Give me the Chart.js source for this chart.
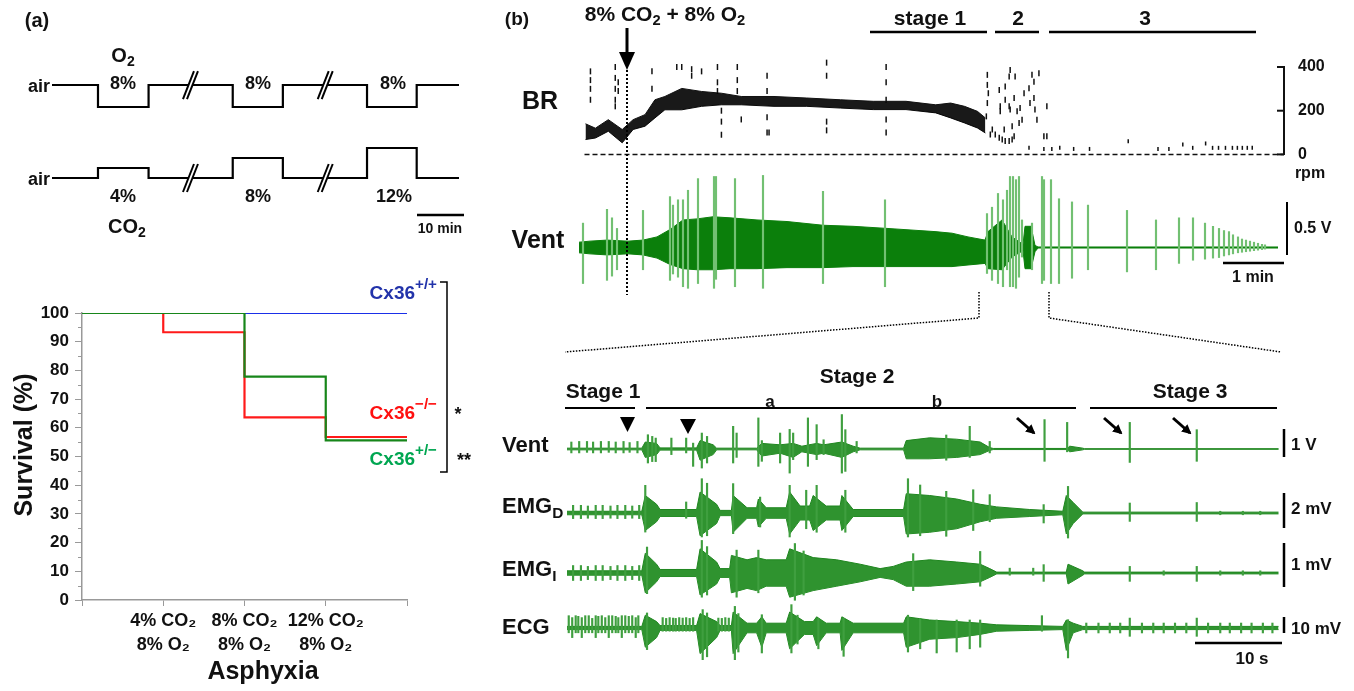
<!DOCTYPE html>
<html>
<head>
<meta charset="utf-8">
<title>Cx36 asphyxia survival</title>
<script src="https://cdn.jsdelivr.net/npm/chart.js@4.4.1/dist/chart.umd.min.js"></script>
<style>
  body { margin: 0; background: #fff; }
  #fig { position: relative; width: 1354px; height: 691px; overflow: hidden; font-family: 'Liberation Sans', Arial, sans-serif; }
  #fig canvas { position: absolute; z-index: 1; }
  #ann { position: absolute; left: 0; top: 0; z-index: 2; }
  .lab { position: absolute; z-index: 3; font-weight: bold; white-space: nowrap; line-height: 1; color: #111; }
  .lab sub, .lab sup { font-size: 0.7em; line-height: 0; }
  .lab sub { vertical-align: -0.3em; }
  .lab sup { vertical-align: 0.6em; font-size: 0.8em; }
</style>
</head>
<body>
<div id="fig">
<svg id="ann" width="1354" height="691">
  <defs>
    <marker id="ah" viewBox="0 0 10 10" refX="8" refY="5" markerWidth="3.2" markerHeight="3.2" orient="auto">
      <path d="M0,0 L10,5 L0,10 z" fill="#000"/>
    </marker>
  </defs>
  <g stroke="#000" fill="none">
    <line x1="417" y1="215" x2="464" y2="215" stroke-width="2.5"/>
    <polyline points="440,282 447,282 447,472 440,472" stroke-width="1.5"/>
    <line x1="627" y1="28" x2="627" y2="54" stroke-width="3"/>
    <line x1="627" y1="70" x2="627" y2="295" stroke-width="2" stroke-dasharray="2 2"/>
    <line x1="870" y1="32" x2="987" y2="32" stroke-width="2.5"/>
    <line x1="995" y1="32" x2="1039" y2="32" stroke-width="2.5"/>
    <line x1="1049" y1="32" x2="1256" y2="32" stroke-width="2.5"/>
    <line x1="1287" y1="202" x2="1287" y2="255" stroke-width="2"/>
    <line x1="1223" y1="263" x2="1284" y2="263" stroke-width="2.5"/>
    <polyline points="979,292 979,318 565,352" stroke-width="1.5" stroke-dasharray="1.5 1.5"/>
    <polyline points="1049,292 1049,318 1281,352" stroke-width="1.5" stroke-dasharray="1.5 1.5"/>
    <line x1="565" y1="408" x2="635" y2="408" stroke-width="2"/>
    <line x1="646" y1="408" x2="1076" y2="408" stroke-width="2"/>
    <line x1="1090" y1="408" x2="1277" y2="408" stroke-width="2"/>
    <line x1="1017" y1="418" x2="1034" y2="433" stroke-width="3" marker-end="url(#ah)"/>
    <line x1="1104" y1="418" x2="1121" y2="433" stroke-width="3" marker-end="url(#ah)"/>
    <line x1="1173" y1="418" x2="1190" y2="433" stroke-width="3" marker-end="url(#ah)"/>
    <line x1="1284" y1="429" x2="1284" y2="457" stroke-width="2.5"/>
    <line x1="1284" y1="493" x2="1284" y2="528" stroke-width="2.5"/>
    <line x1="1284" y1="543" x2="1284" y2="587" stroke-width="2.5"/>
    <line x1="1284" y1="617" x2="1284" y2="633" stroke-width="2.5"/>
    <line x1="1195" y1="643" x2="1282" y2="643" stroke-width="2.5"/>
  </g>
  <g fill="#000">
    <polygon points="619,52 635,52 627,70"/>
    <polygon points="620,417 635,417 627.5,432"/>
    <polygon points="680,419 696,419 688,434"/>
  </g>
</svg>
</div>
<script>
// survival (a, bottom)
const stageX = [0, 1, 2, 3, 4];
const stageLabels = ['', ['4% CO₂', '8% O₂'], ['8% CO₂', '8% O₂'], ['12% CO₂', '8% O₂'], ''];
const survWT = [100, 100, 100, 100, 100];
const survKO = [100, 93.3, 63.6, 56.8, 56.8];
const survHet = [100, 100, 77.8, 55.6, 55.6];

// gas protocol (a, top), minutes
const protoT = [0, 10, 21, 39.3, 50.2, 68.5, 79.3, 88.5];
const o2Level = [21, 8, 21, 8, 21, 8, 21, 21];
const co2Level = [0, 4, 0, 8, 0, 12, 0, 0];
const breakT = [30, 59.3];

// breathing rate (b, top), s / rpm
const brTicks = [0, 200, 400];
const brT = [1, 11, 24, 38, 49, 61, 71, 81, 98, 118, 138, 158, 191, 224, 258, 291, 324, 354, 369, 383, 396, 404];
const brHi = [140, 120, 159, 114, 159, 182, 250, 265, 302, 288, 280, 265, 265, 258, 250, 243, 243, 227, 235, 220, 197, 167];
const brLo = [68, 75, 106, 53, 114, 129, 167, 204, 204, 220, 227, 227, 220, 220, 212, 205, 205, 190, 167, 144, 121, 98];
const brStreakT = [6, 6, 6, 6, 31, 31, 31, 31, 31, 34, 34, 68, 68, 93, 93, 93, 98, 98, 101, 108, 108, 118, 118, 118, 134, 134, 134, 134, 134, 138, 138, 138, 154, 154, 154, 154, 154, 158, 184, 184, 184, 184, 184, 184, 186, 244, 244, 244, 244, 244, 304, 304, 304, 304, 304];
const brStreakV = [380, 340, 300, 250, 400, 350, 300, 250, 220, 330, 290, 380, 300, 500, 450, 400, 510, 400, 480, 390, 360, 505, 440, 380, 515, 470, 400, 330, 290, 200, 150, 90, 520, 460, 400, 340, 290, 160, 500, 430, 360, 290, 170, 100, 100, 515, 420, 360, 150, 110, 400, 330, 250, 160, 100];
const brStage2T = [405, 406, 406, 406, 407, 409, 411, 414, 418, 418, 419, 419, 421, 423, 424, 424, 424, 426, 426, 428, 428, 428, 429, 429, 431, 431, 433, 433, 434, 436, 436, 438, 438, 439, 441, 443, 443, 446, 448, 449, 449, 451, 451, 453, 453, 454, 456, 458, 463, 466, 466];
const brStage2V = [174, 364, 318, 235, 280, 91, 114, 91, 295, 76, 220, 197, 68, 114, 250, 311, 61, 515, 455, 356, 220, 61, 386, 205, 129, 68, 258, 83, 356, 470, 197, 462, 144, 212, 159, 280, 432, 439, 303, 235, 515, 492, 364, 333, 258, 205, 159, 371, 83, 220, 83];
const brStage3T = [448, 463, 471, 479, 493, 509, 548, 578, 589, 603, 613, 626, 633, 639, 646, 653, 658, 663, 668, 673];
const brStage3V = [30, 25, 25, 30, 25, 25, 60, 25, 25, 45, 30, 50, 30, 30, 30, 30, 30, 30, 30, 30];

// ventilation, long record (b, top), s / V
const ventT = [0, 11, 28, 49, 64, 78, 91, 104, 118, 134, 151, 178, 208, 244, 274, 308, 356, 373, 389, 406, 409, 423, 433, 444, 446, 452, 456, 459, 699];
const ventHi = [0.05, 0.06, 0.07, 0.06, 0.07, 0.10, 0.17, 0.26, 0.27, 0.29, 0.28, 0.26, 0.245, 0.21, 0.20, 0.18, 0.15, 0.135, 0.10, 0.07, 0.15, 0.26, 0.10, 0.03, 0.2, 0.2, 0.02, 0.005, 0.005];
const ventLo = [-0.05, -0.06, -0.07, -0.06, -0.07, -0.10, -0.16, -0.20, -0.21, -0.21, -0.20, -0.20, -0.19, -0.19, -0.18, -0.18, -0.18, -0.18, -0.165, -0.15, -0.20, -0.21, -0.09, -0.03, -0.2, -0.2, -0.04, -0.005, -0.005];
const ventSpikeT = [4, 28, 33, 38, 64, 91, 94, 99, 104, 109, 119, 135, 137, 156, 184, 244, 306, 408, 413, 419, 424, 428, 431, 434, 437, 440, 443, 453, 463, 465, 472, 480, 493, 509, 548, 577, 600, 614, 626, 634, 640, 645, 650, 654, 659, 663, 667, 671, 675, 679, 683, 686];
const ventSpikeHi = [0.23, 0.36, 0.28, 0.18, 0.35, 0.48, 0.40, 0.45, 0.45, 0.54, 0.65, 0.67, 0.67, 0.65, 0.68, 0.53, 0.45, 0.32, 0.38, 0.51, 0.45, 0.54, 0.67, 0.67, 0.64, 0.67, 0.26, 0.23, 0.67, 0.64, 0.64, 0.46, 0.43, 0.40, 0.35, 0.26, 0.28, 0.28, 0.23, 0.20, 0.18, 0.16, 0.15, 0.12, 0.10, 0.08, 0.07, 0.06, 0.05, 0.04, 0.03, 0.025];
const ventSpikeLo = [-0.34, -0.31, -0.27, -0.21, -0.21, -0.31, -0.25, -0.28, -0.37, -0.385, -0.34, -0.385, -0.3, -0.37, -0.385, -0.34, -0.37, -0.245, -0.31, -0.34, -0.37, -0.21, -0.37, -0.37, -0.385, -0.28, -0.09, -0.21, -0.34, -0.31, -0.34, -0.34, -0.29, -0.21, -0.23, -0.21, -0.15, -0.12, -0.11, -0.10, -0.095, -0.08, -0.07, -0.06, -0.05, -0.045, -0.04, -0.035, -0.03, -0.025, -0.02, -0.015];

// expanded stages (b, bottom), s
const ventBT = [0, 8.6, 9.0, 10.3, 10.7, 14.9, 15.3, 16.8, 17.2, 21.8, 22.4, 24.5, 26.0, 27.0, 28.7, 29.5, 31.6, 32.9, 33.7, 38.7, 39.0, 41.7, 44.8, 47.5, 48.6, 49.0, 57.5, 57.8, 59.3, 59.5, 81.8];
const ventBHi = [0.03, 0.03, 0.25, 0.2, 0.04, 0.04, 0.3, 0.15, 0.03, 0.03, 0.2, 0.15, 0.2, 0.1, 0.2, 0.15, 0.25, 0.1, 0.03, 0.03, 0.3, 0.4, 0.35, 0.25, 0.05, 0.02, 0.02, 0.1, 0.03, 0.01, 0.01];
const ventBLo = [-0.03, -0.03, -0.3, -0.2, -0.04, -0.04, -0.4, -0.2, -0.03, -0.03, -0.25, -0.15, -0.3, -0.1, -0.2, -0.15, -0.3, -0.1, -0.03, -0.03, -0.35, -0.35, -0.3, -0.2, -0.05, -0.02, -0.02, -0.1, -0.03, -0.01, -0.01];
const ventBSpikeT = [0.5, 1.4, 2.3, 3.0, 3.9, 4.8, 5.6, 6.5, 7.2, 8.1, 9.3, 9.8, 10.2, 12.0, 13.7, 14.5, 15.5, 16.1, 19.1, 19.5, 22.0, 22.4, 24.5, 25.6, 26.0, 27.7, 28.7, 29.5, 31.6, 32.0, 33.3, 43.6, 46.3, 48.6, 54.9, 57.5, 64.7, 72.4];
const ventBSpikeHi = [0.25, 0.27, 0.27, 0.25, 0.27, 0.27, 0.25, 0.27, 0.23, 0.27, 0.51, 0.45, 0.39, 0.39, 0.39, 0.21, 0.57, 0.45, 0.81, 0.57, 1.11, 0.3, 0.57, 0.7, 0.57, 1.11, 0.87, 0.33, 1.23, 0.69, 0.27, 0.5, 0.81, 0.27, 1.05, 0.95, 0.95, 0.69];
const ventBSpikeLo = [-0.14, -0.14, -0.12, -0.14, -0.14, -0.12, -0.14, -0.14, -0.12, -0.14, -0.5, -0.45, -0.45, -0.2, -0.14, -0.62, -0.68, -0.5, -0.5, -0.3, -0.62, -0.44, -0.5, -0.86, -0.38, -0.62, -0.38, -0.2, -0.86, -0.8, -0.14, -0.4, -0.3, -0.14, -0.44, -0.1, -0.48, -0.44];

const emgDT = [0, 8.6, 9.0, 10.3, 10.7, 14.9, 15.3, 17.2, 17.6, 18.9, 19.1, 20.7, 21.8, 22.0, 22.9, 25.2, 25.6, 26.8, 27.9, 28.3, 29.8, 31.4, 31.6, 32.9, 38.7, 39.0, 41.7, 44.8, 47.5, 49.4, 53.2, 57.0, 57.4, 58.2, 59.3, 81.8];
const emgDHi = [0.1, 0.1, 1.0, 0.5, 0.2, 0.2, 1.2, 0.5, 0.15, 0.15, 1.0, 0.3, 0.3, 0.8, 0.3, 0.3, 1.2, 0.4, 0.4, 1.0, 0.4, 0.4, 1.0, 0.2, 0.2, 1.1, 1.0, 0.8, 0.5, 0.35, 0.2, 0.1, 1.0, 0.6, 0.05, 0.05];
const emgDLo = [-0.1, -0.1, -1.0, -0.5, -0.2, -0.2, -1.3, -0.6, -0.15, -0.15, -1.1, -0.3, -0.3, -0.8, -0.3, -0.3, -1.2, -0.4, -0.4, -1.0, -0.4, -0.4, -1.0, -0.2, -0.2, -1.2, -1.1, -0.9, -0.5, -0.3, -0.2, -0.1, -1.2, -0.6, -0.05, -0.05];
const emgDSpikeT = [0.7, 1.6, 2.4, 3.3, 4.1, 5.0, 5.8, 6.7, 7.5, 8.3, 9.0, 13.7, 15.5, 16.1, 19.1, 22.2, 25.6, 27.5, 28.7, 32.0, 39.2, 40.6, 43.6, 46.7, 48.6, 54.8, 57.6, 64.7, 72.4, 75.1, 77.7, 79.7];
const emgDSpikeHi = [0.44, 0.44, 0.4, 0.44, 0.44, 0.4, 0.44, 0.44, 0.4, 0.44, 1.58, 0.63, 1.96, 1.7, 1.68, 0.91, 1.58, 1.3, 1.58, 1.3, 1.96, 1.6, 1.24, 1.33, 1.05, 0.48, 1.52, 0.57, 0.6, 0.1, 0.1, 0.1];
const emgDSpikeLo = [-0.32, -0.32, -0.3, -0.32, -0.32, -0.3, -0.32, -0.32, -0.3, -0.32, -1.09, -0.3, -1.37, -1.3, -1.18, -0.8, -1.37, -0.9, -1.1, -1.1, -1.37, -1.3, -1.33, -1.0, -0.5, -0.57, -1.43, -0.48, -0.48, -0.1, -0.1, -0.1];

const emgIT = [0, 8.6, 9.0, 10.3, 10.7, 14.9, 15.3, 17.2, 17.6, 18.7, 18.9, 20.7, 21.8, 22.9, 25.2, 25.6, 28.3, 31.0, 33.7, 36.0, 37.5, 39.0, 41.7, 44.8, 47.5, 48.6, 49.4, 57.4, 57.6, 59.3, 59.5, 81.8];
const emgIHi = [0.05, 0.05, 0.45, 0.2, 0.08, 0.08, 0.55, 0.25, 0.1, 0.1, 0.4, 0.3, 0.35, 0.3, 0.3, 0.55, 0.35, 0.3, 0.2, 0.1, 0.15, 0.25, 0.3, 0.25, 0.2, 0.1, 0.02, 0.02, 0.2, 0.05, 0.02, 0.02];
const emgILo = [-0.05, -0.05, -0.45, -0.2, -0.08, -0.08, -0.5, -0.25, -0.1, -0.1, -0.45, -0.35, -0.4, -0.3, -0.3, -0.55, -0.4, -0.3, -0.2, -0.1, -0.15, -0.3, -0.3, -0.25, -0.2, -0.1, -0.02, -0.02, -0.25, -0.05, -0.02, -0.02];
const emgISpikeT = [0.7, 1.6, 2.4, 3.3, 4.1, 5.0, 5.8, 6.7, 7.5, 8.3, 9.2, 15.5, 16.1, 19.5, 22.0, 26.2, 27.2, 39.8, 47.5, 50.9, 53.6, 54.8, 64.7, 68.6, 72.4, 75.1, 77.7, 79.7];
const emgISpikeHi = [0.17, 0.17, 0.15, 0.17, 0.17, 0.15, 0.17, 0.17, 0.15, 0.17, 0.59, 0.74, 0.6, 0.52, 0.52, 0.67, 0.5, 0.44, 0.49, 0.11, 0.11, 0.19, 0.15, 0.05, 0.15, 0.05, 0.05, 0.05];
const emgISpikeLo = [-0.17, -0.17, -0.15, -0.17, -0.17, -0.15, -0.17, -0.17, -0.15, -0.17, -0.47, -0.55, -0.5, -0.55, -0.45, -0.62, -0.5, -0.4, -0.3, -0.05, -0.05, -0.19, -0.19, -0.05, -0.19, -0.05, -0.05, -0.05];

const ecgT = [0, 8.6, 9.0, 10.3, 10.7, 14.9, 15.3, 17.2, 17.6, 18.9, 19.1, 20.7, 21.8, 22.4, 22.9, 25.2, 25.6, 27.3, 28.3, 28.7, 29.8, 31.4, 31.6, 32.9, 38.7, 39.0, 41.7, 44.8, 47.5, 49.4, 53.2, 57.0, 57.4, 58.2, 59.3, 81.8];
const ecgHi = [1, 1, 8, 4, 1.5, 1.5, 9, 4, 1.5, 1.5, 10, 3, 3, 7, 3, 3, 10, 4, 4, 7, 3, 3, 7, 3, 3, 7, 5, 4, 3, 2, 1.5, 1, 5, 3, 1, 1];
const ecgLo = [-1, -1, -12, -6, -1.5, -1.5, -16, -6, -1.5, -1.5, -16, -3, -3, -12, -3, -3, -13, -4, -4, -11, -3, -3, -14, -3, -3, -12, -7, -6, -4, -2, -1.5, -1, -14, -3, -1, -1];
const ecgSpikeT = [0.2, 0.6, 1.0, 1.3, 1.7, 2.1, 2.5, 2.9, 3.3, 3.6, 4.0, 4.4, 4.8, 5.2, 5.6, 5.9, 6.3, 6.7, 7.1, 7.5, 7.9, 8.2,
  9.2, 11.0, 11.4, 11.8, 12.2, 12.5, 12.9, 13.3, 13.7, 14.1, 14.5, 15.6, 16.1, 17.4, 17.8, 18.2, 18.6, 19.3, 19.7,
  22.4, 25.8, 26.5, 28.9, 31.8, 39.2, 40.6, 42.5, 44.8, 46.3, 47.5, 54.6, 57.6,
  59.7, 61.1, 62.4, 63.6, 64.7, 66.1, 67.4, 68.6, 69.9, 71.2, 72.4, 73.7, 75.1, 76.2, 77.5, 78.7, 80.0, 81.1];
const ecgSpikeHi = [7.7, 6.5, 7.7, 7.3, 6.5, 7.7, 7.7, 6.0, 7.7, 7.3, 7.7, 6.5, 7.7, 7.7, 7.3, 6.5, 7.7, 7.7, 7.3, 7.7, 6.5, 7.7,
  9.4, 6.5, 6.0, 6.5, 6.2, 6.0, 6.5, 6.2, 6.5, 6.0, 6.5, 11.5, 9.4, 6.2, 6.0, 6.5, 6.2, 13.5, 9.0,
  8.3, 14.6, 8.0, 6.0, 6.0, 8.0, 6.0, 5.0, 5.0, 5.0, 5.0, 7.7, 5.2,
  3.1, 3.1, 3.1, 3.1, 6.2, 3.1, 3.1, 3.1, 3.1, 3.1, 6.2, 3.1, 3.1, 3.1, 3.1, 3.1, 3.1, 3.1];
const ecgSpikeLo = [-3, -6, -3, -3, -6, -3, -3, -3, -6, -3, -3, -3, -6, -3, -3, -3, -6, -3, -3, -3, -6, -3,
  -13.5, -2, -2, -2, -2, -2, -2, -2, -2, -2, -2, -19.8, -18, -2, -2, -2, -2, -19.8, -15,
  -15.6, -15.6, -10, -13, -17.7, -15, -13, -15.6, -15, -13, -12, -2, -18.7,
  -3.1, -3.1, -3.1, -3.1, -5.2, -3.1, -3.1, -3.1, -3.1, -3.1, -5.2, -3.1, -3.1, -3.1, -3.1, -3.1, -3.1, -3.1];

const FONT = "'Liberation Sans', Arial, sans-serif";
Chart.defaults.font.family = FONT;
Chart.defaults.font.weight = 'bold';
Chart.defaults.color = '#111';

const fig = document.getElementById('fig');

const lab = (html, x, y, opts = {}) => {
  const d = document.createElement('div');
  d.className = 'lab';
  d.innerHTML = html;
  d.style.left = x + 'px';
  d.style.top = y + 'px';
  d.style.fontSize = (opts.size || 16) + 'px';
  if (opts.color) d.style.color = opts.color;
  const ax = opts.align === 'left' ? '0' : opts.align === 'right' ? '-100%' : '-50%';
  d.style.transform = `translate(${ax}, -50%)` + (opts.rotate ? ` rotate(${opts.rotate}deg)` : '');
  fig.appendChild(d);
};

const makeCanvas = (box) => {
  const c = document.createElement('canvas');
  c.width = box.width;
  c.height = box.height;
  c.style.left = box.left + 'px';
  c.style.top = box.top + 'px';
  fig.appendChild(c);
  return c;
};

const pts = (xs, ys) => xs.map((x, i) => ({ x, y: ys[i] }));
const spans = (xs, lo, hi) => xs.map((x, i) => ({ x, y: [lo[i], hi[i]] }));

const quiet = {
  responsive: false,
  animation: false,
  events: [],
  plugins: { legend: { display: false }, tooltip: { enabled: false } },
};

// survival chart
const minorTicks = {
  id: 'minorTicks',
  afterDraw(chart) {
    const { ctx, chartArea, scales: { y } } = chart;
    ctx.save();
    ctx.strokeStyle = '#999';
    ctx.lineWidth = 1;
    for (let v = 5; v < 100; v += 10) {
      const p = Math.round(y.getPixelForValue(v)) + 0.5;
      ctx.beginPath();
      ctx.moveTo(chartArea.left - 4, p);
      ctx.lineTo(chartArea.left, p);
      ctx.stroke();
    }
    ctx.restore();
  },
};

const survLine = (data, color, width, order) => ({
  data: pts(stageX, data),
  borderColor: color,
  borderWidth: width,
  stepped: true,
  pointRadius: 0,
  fill: false,
  order,
});

new Chart(makeCanvas({ left: 0, top: 285, width: 430, height: 405 }), {
  type: 'line',
  data: {
    datasets: [
      survLine(survHet, '#17861a', 2.2, 1),
      survLine(survKO, '#ff1a1a', 2.2, 2),
      survLine(survWT, '#1a2fe8', 1.8, 3),
    ],
  },
  options: {
    ...quiet,
    layout: { padding: { top: 28, right: 23, left: 0, bottom: 0 } },
    scales: {
      x: {
        type: 'linear',
        min: 0,
        max: 4,
        ticks: { stepSize: 1, autoSkip: false, maxRotation: 0, padding: 3, font: { size: 18, lineHeight: 1.35 }, callback: (v) => stageLabels[v] },
        grid: { drawOnChartArea: false, tickLength: 6, color: '#999' },
        border: { color: '#999', width: 1.5 },
        afterFit: (s) => { s.height = 90; },
      },
      y: {
        min: 0,
        max: 100,
        ticks: { stepSize: 10, padding: 6, font: { size: 17 } },
        grid: { drawOnChartArea: false, tickLength: 7, color: '#999' },
        border: { color: '#999', width: 1.5 },
        afterFit: (s) => { s.width = 82; },
      },
    },
  },
  plugins: [minorTicks],
});

// gas protocol
const breakMarks = {
  id: 'breakMarks',
  afterDatasetsDraw(chart) {
    const { ctx, scales } = chart;
    const levels = [scales.yO2.getPixelForValue(o2Level[0]), scales.yCO2.getPixelForValue(co2Level[0])];
    ctx.save();
    breakT.forEach((t) => {
      const px = scales.x.getPixelForValue(t);
      levels.forEach((py) => {
        const ax = px - 7, ay = py + 14, bx = px + 4, by = py - 14;
        ctx.fillStyle = '#fff';
        ctx.beginPath();
        ctx.moveTo(ax, ay);
        ctx.lineTo(bx, by);
        ctx.lineTo(bx + 4, by);
        ctx.lineTo(ax + 4, ay);
        ctx.closePath();
        ctx.fill();
        ctx.strokeStyle = '#000';
        ctx.lineWidth = 2;
        [0, 4].forEach((off) => {
          ctx.beginPath();
          ctx.moveTo(ax + off, ay);
          ctx.lineTo(bx + off, by);
          ctx.stroke();
        });
      });
    });
    ctx.restore();
  },
};

new Chart(makeCanvas({ left: 52, top: 60, width: 407, height: 140 }), {
  type: 'line',
  data: {
    datasets: [
      { data: pts(protoT, o2Level), yAxisID: 'yO2', borderColor: '#000', borderWidth: 2.2, stepped: true, pointRadius: 0 },
      { data: pts(protoT, co2Level), yAxisID: 'yCO2', borderColor: '#000', borderWidth: 2.2, stepped: true, pointRadius: 0 },
    ],
  },
  options: {
    ...quiet,
    scales: {
      x: { type: 'linear', min: 0, max: 88.5, display: false },
      yO2: { min: -47, max: 35.8, display: false },
      yCO2: { min: -8.8, max: 47.2, display: false },
    },
  },
  plugins: [breakMarks],
});

// breathing rate
const brDecor = {
  id: 'brDecor',
  afterDraw(chart) {
    const { ctx, chartArea, scales: { y } } = chart;
    const y0 = y.getPixelForValue(0);
    ctx.save();
    ctx.strokeStyle = '#111';
    ctx.lineWidth = 1.5;
    ctx.setLineDash([5, 3]);
    ctx.beginPath();
    ctx.moveTo(chartArea.left, y0);
    ctx.lineTo(chartArea.right, y0);
    ctx.stroke();
    ctx.setLineDash([]);
    ctx.lineWidth = 2;
    brTicks.forEach((v) => {
      const p = y.getPixelForValue(v);
      ctx.beginPath();
      ctx.moveTo(chartArea.right - 7, p);
      ctx.lineTo(chartArea.right, p);
      ctx.stroke();
    });
    ctx.restore();
  },
};

const dashes = (xs, ys, r) => ({
  type: 'scatter',
  data: pts(xs, ys),
  pointStyle: 'line',
  pointRotation: 90,
  pointRadius: r,
  pointBorderColor: '#111',
  pointBorderWidth: 1.5,
  clip: false,
});

// tick padding also pads the bottom of a vertical axis, so the canvas is taller than the plot
new Chart(makeCanvas({ left: 579, top: 35, width: 765, height: 143 }), {
  type: 'line',
  data: {
    datasets: [
      { data: pts(brT, brHi), borderColor: '#111', backgroundColor: 'rgba(0,0,0,0.9)', borderWidth: 1, pointRadius: 0, fill: '+1' },
      { data: pts(brT, brLo), borderColor: '#111', borderWidth: 1, pointRadius: 0, fill: false },
      dashes(brStreakT, brStreakV, 3),
      dashes(brStage2T, brStage2V, 3),
      dashes(brStage3T, brStage3V, 2),
    ],
  },
  options: {
    ...quiet,
    layout: { padding: { top: 32, bottom: 8, left: 0, right: 0 } },
    scales: {
      x: { type: 'linear', min: 0, max: 705, display: false },
      y: {
        position: 'right',
        min: 0,
        max: 400,
        ticks: { stepSize: 200, padding: 14, font: { size: 16 } },
        grid: { drawOnChartArea: false, drawTicks: false },
        border: { color: '#111', width: 2 },
        afterFit: (s) => { s.width = 60; },
      },
    },
  },
  plugins: [brDecor],
});

// green traces: filled envelope plus spikes as floating bars
const traceChart = (box, tr) => {
  const yMax = (box.base - box.top) / box.perUnit;
  const yMin = -(box.top + box.height - box.base) / box.perUnit;
  return new Chart(makeCanvas(box), {
    type: 'line',
    data: {
      datasets: [
        { data: pts(tr.t, tr.hi), borderColor: tr.color, backgroundColor: tr.fill, borderWidth: 1, pointRadius: 0, fill: '+1', order: 2 },
        { data: pts(tr.t, tr.lo), borderColor: tr.color, borderWidth: 1, pointRadius: 0, fill: false, order: 2 },
        { type: 'bar', data: spans(tr.st, tr.slo, tr.shi), backgroundColor: tr.spike, barThickness: tr.bw, order: 1 },
      ],
    },
    options: {
      ...quiet,
      scales: {
        x: { type: 'linear', min: 0, max: box.xMax, display: false, offset: false },
        y: { min: yMin, max: yMax, display: false },
      },
    },
  });
};

traceChart(
  { left: 579, top: 170, width: 705, height: 125, xMax: 705, base: 247.5, perUnit: 106 },
  { t: ventT, hi: ventHi, lo: ventLo, st: ventSpikeT, shi: ventSpikeHi, slo: ventSpikeLo, color: '#0b7f0b', fill: '#0b7f0b', spike: '#72c072', bw: 1.5 }
);

const bottomBox = { left: 567, width: 715, xMax: 82.2 };
const bottomTraces = [
  [{ top: 405, height: 80, base: 449, perUnit: 28 }, { t: ventBT, hi: ventBHi, lo: ventBLo, st: ventBSpikeT, shi: ventBSpikeHi, slo: ventBSpikeLo }],
  [{ top: 470, height: 85, base: 513, perUnit: 17.5 }, { t: emgDT, hi: emgDHi, lo: emgDLo, st: emgDSpikeT, shi: emgDSpikeHi, slo: emgDSpikeLo }],
  [{ top: 530, height: 80, base: 573, perUnit: 44 }, { t: emgIT, hi: emgIHi, lo: emgILo, st: emgISpikeT, shi: emgISpikeHi, slo: emgISpikeLo }],
  [{ top: 595, height: 75, base: 628, perUnit: 1.6 }, { t: ecgT, hi: ecgHi, lo: ecgLo, st: ecgSpikeT, shi: ecgSpikeHi, slo: ecgSpikeLo }],
];
bottomTraces.forEach(([box, tr]) => {
  traceChart({ ...bottomBox, ...box }, { ...tr, color: '#1f861f', fill: '#2f932f', spike: '#3f9f3f', bw: 1.5 });
});

// text
lab('(a)', 37, 20, { size: 20 });
lab('O<sub>2</sub>', 123, 55, { size: 20 });
lab('air', 50, 86, { size: 18, align: 'right' });
lab('8%', 123, 83, { size: 18 });
lab('8%', 258, 83, { size: 18 });
lab('8%', 393, 83, { size: 18 });
lab('air', 50, 179, { size: 18, align: 'right' });
lab('4%', 123, 196, { size: 18 });
lab('8%', 258, 196, { size: 18 });
lab('12%', 394, 196, { size: 18 });
lab('CO<sub>2</sub>', 127, 226, { size: 20 });
lab('10 min', 440, 228, { size: 14 });

lab('Survival (%)', 23, 445, { size: 25, rotate: -90 });
lab('Cx36<sup>+/+</sup>', 437, 292, { size: 19, color: '#2233aa', align: 'right' });
lab('Cx36<sup>−/−</sup>', 437, 412, { size: 19, color: '#ff1010', align: 'right' });
lab('Cx36<sup>+/−</sup>', 437, 458, { size: 19, color: '#00a651', align: 'right' });
lab('*', 458, 414, { size: 18 });
lab('**', 464, 460, { size: 18 });
lab('Asphyxia', 263, 670, { size: 25 });

lab('(b)', 517, 18, { size: 19 });
lab('8% CO<sub>2</sub> + 8% O<sub>2</sub>', 665, 13, { size: 21 });
lab('stage 1', 930, 17, { size: 21 });
lab('2', 1018, 17, { size: 21 });
lab('3', 1145, 17, { size: 21 });
lab('BR', 540, 100, { size: 25 });
lab('Vent', 538, 239, { size: 25 });
lab('rpm', 1310, 173, { size: 16 });
lab('0.5 V', 1294, 228, { size: 16, align: 'left' });
lab('1 min', 1253, 277, { size: 16 });

lab('Stage 1', 603, 390, { size: 21 });
lab('Stage 2', 857, 375, { size: 21 });
lab('Stage 3', 1190, 390, { size: 21 });
lab('a', 770, 401, { size: 17 });
lab('b', 937, 401, { size: 17 });
lab('Vent', 502, 445, { size: 22, align: 'left' });
lab('EMG<sub>D</sub>', 502, 506, { size: 22, align: 'left' });
lab('EMG<sub>I</sub>', 502, 569, { size: 22, align: 'left' });
lab('ECG', 502, 627, { size: 22, align: 'left' });
lab('1 V', 1291, 444, { size: 17, align: 'left' });
lab('2 mV', 1291, 508, { size: 17, align: 'left' });
lab('1 mV', 1291, 564, { size: 17, align: 'left' });
lab('10 mV', 1291, 628, { size: 17, align: 'left' });
lab('10 s', 1252, 658, { size: 17 });
</script>
</body>
</html>
